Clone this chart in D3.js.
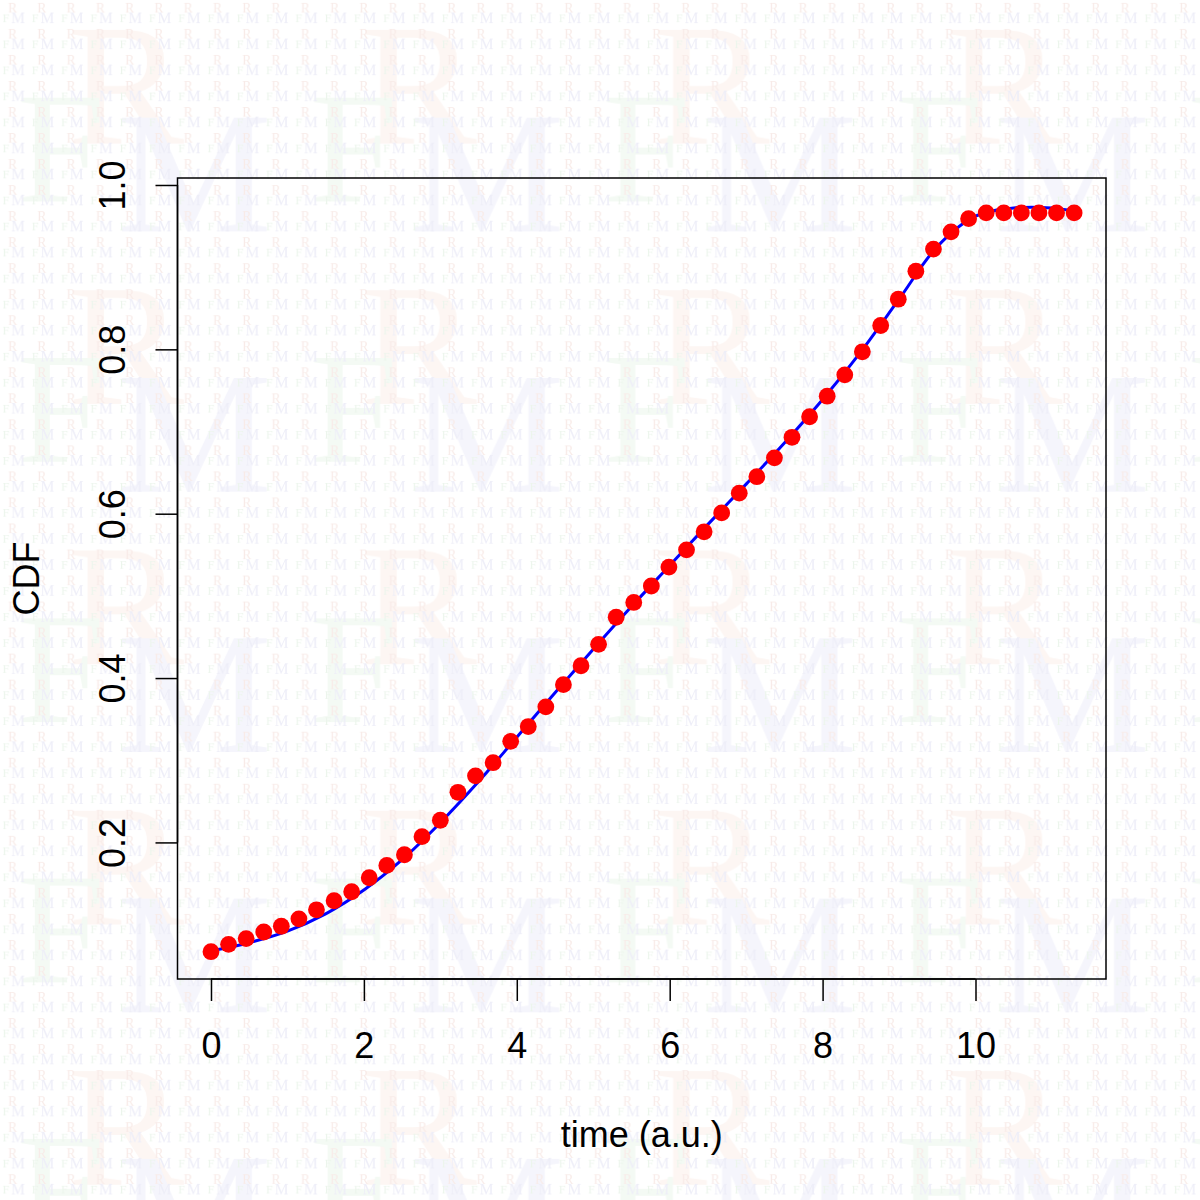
<!DOCTYPE html>
<html>
<head>
<meta charset="utf-8">
<script src="https://cdn.jsdelivr.net/npm/d3@7"></script>
<style>
  html, body { margin: 0; padding: 0; background: #ffffff; }
  svg { display: block; }
  .sans { font-family: "Liberation Sans", Arial, sans-serif; }
  .serif { font-family: "Liberation Serif", "Times New Roman", serif; }
</style>
</head>
<body>
<svg id="chart" width="1200" height="1200"></svg>
<script>
// ---- data ----
const times = [0, 0.23, 0.46, 0.69, 0.92, 1.15, 1.38, 1.61, 1.84, 2.07,
  2.30, 2.53, 2.76, 3.00, 3.23, 3.46, 3.69, 3.92, 4.15, 4.38,
  4.61, 4.84, 5.07, 5.30, 5.53, 5.76, 5.99, 6.22, 6.45, 6.68,
  6.91, 7.14, 7.37, 7.60, 7.83, 8.06, 8.29, 8.52, 8.76, 8.99,
  9.22, 9.45, 9.68, 9.91, 10.14, 10.37, 10.60, 10.83, 11.06, 11.29];
const cdfObserved = [0.067, 0.076, 0.083, 0.091, 0.098, 0.107, 0.118, 0.129, 0.140, 0.157,
  0.172, 0.185, 0.207, 0.227, 0.261, 0.281, 0.297, 0.323, 0.341, 0.365,
  0.392, 0.415, 0.441, 0.474, 0.492, 0.512, 0.535, 0.556, 0.578, 0.601,
  0.625, 0.645, 0.668, 0.693, 0.718, 0.743, 0.769, 0.797, 0.829, 0.861,
  0.895, 0.922, 0.943, 0.959, 0.966, 0.966, 0.966, 0.966, 0.966, 0.966];
const curveTimes = [0, 0.5, 1.0, 1.5, 2.0, 2.5, 3.0, 3.5, 4.0, 4.5, 5.0, 5.5,
  6.0, 6.5, 7.0, 7.5, 8.0, 8.5, 9.0, 9.5, 10.0, 10.5, 11.0, 11.29];
const cdfFitted = [0.068, 0.078, 0.092, 0.113, 0.142, 0.179, 0.224, 0.274, 0.328, 0.382, 0.435, 0.487,
  0.537, 0.587, 0.636, 0.686, 0.739, 0.797, 0.861, 0.925, 0.962, 0.972, 0.972, 0.968];
const xTicks = [0, 2, 4, 6, 8, 10];
const yTicks = [0.2, 0.4, 0.6, 0.8, 1.0];
const xLabel = "time (a.u.)";
const yLabel = "CDF";

// ---- layout ----
const W = 1200, H = 1200;
const plot = { left: 177.5, right: 1106, top: 178, bottom: 979 };
const svg = d3.select("#chart");

// ---- watermark background ----
const defs = svg.append("defs");
const small = defs.append("pattern").attr("id", "wmSmall")
  .attr("patternUnits", "userSpaceOnUse").attr("width", 29.28).attr("height", 26.03);
small.append("text").attr("class", "serif").attr("x", 8).attr("y", 12.6)
  .attr("font-size", 13.5).attr("fill", "#f8ebe8").text("R");
small.append("text").attr("class", "serif").attr("x", 2.5).attr("y", 21.8)
  .attr("font-size", 12.5).attr("fill", "#ecf5ec").text("F");
small.append("text").attr("class", "serif").attr("x", 11.2).attr("y", 23.3)
  .attr("font-size", 15.5).attr("fill", "#eeeef8").text("M");

const big = defs.append("pattern").attr("id", "wmBig")
  .attr("patternUnits", "userSpaceOnUse").attr("width", 292.8).attr("height", 260.3);
big.append("text").attr("class", "serif").attr("x", 68).attr("y", 143.5)
  .attr("font-size", 174).attr("fill", "#fdf6f3").text("R");
big.append("text").attr("class", "serif").attr("x", 17).attr("y", 201)
  .attr("font-size", 158).attr("fill", "#f4faf4").text("F");
big.append("text").attr("class", "serif").attr("x", 117).attr("y", 231.5)
  .attr("font-size", 174).attr("fill", "#f5f5fc").text("M");

svg.append("rect").attr("width", W).attr("height", H).attr("fill", "#ffffff");
svg.append("rect").attr("width", W).attr("height", H).attr("fill", "url(#wmBig)");
svg.append("rect").attr("width", W).attr("height", H).attr("fill", "url(#wmSmall)");

// ---- scales ----
const x = d3.scaleLinear().domain([-0.438, 11.707]).range([plot.left, plot.right]);
const y = d3.scaleLinear().domain([0.0338, 1.0085]).range([plot.bottom, plot.top]);

// ---- fitted curve ----
const fitted = curveTimes.map((t, i) => [t, cdfFitted[i]]);
svg.append("path")
  .datum(fitted)
  .attr("fill", "none")
  .attr("stroke", "#0000ff")
  .attr("stroke-width", 3)
  .attr("d", d3.line().x(d => x(d[0])).y(d => y(d[1])).curve(d3.curveCatmullRom.alpha(0.5)));

// ---- observed points ----
svg.append("g").selectAll("circle")
  .data(times.map((t, i) => [t, cdfObserved[i]]))
  .join("circle")
  .attr("cx", d => x(d[0]))
  .attr("cy", d => y(d[1]))
  .attr("r", 8.4)
  .attr("fill", "#ff0000");

// ---- box ----
svg.append("rect")
  .attr("x", plot.left).attr("y", plot.top)
  .attr("width", plot.right - plot.left).attr("height", plot.bottom - plot.top)
  .attr("fill", "none").attr("stroke", "#000").attr("stroke-width", 1.5);

// ---- axes ----
const xAxis = d3.axisBottom(x).tickValues(xTicks).tickSize(22).tickPadding(34)
  .tickFormat(d3.format("d"));
const gx = svg.append("g").attr("transform", `translate(0,${plot.bottom})`).call(xAxis);
gx.attr("font-family", null).attr("font-size", null);
gx.select(".domain").attr("d", `M${x(xTicks[0])},0H${x(xTicks[xTicks.length - 1])}`)
  .attr("stroke", "#000").attr("stroke-width", 1.5);
gx.selectAll(".tick line").attr("stroke", "#000").attr("stroke-width", 1.5);
gx.selectAll(".tick text").attr("class", "sans").attr("font-size", 36).attr("fill", "#000")
  .attr("dy", null).attr("y", 79);

const yAxis = d3.axisLeft(y).tickValues(yTicks).tickSize(22).tickFormat(d3.format(".1f"));
const gy = svg.append("g").attr("transform", `translate(${plot.left},0)`).call(yAxis);
gy.attr("font-family", null).attr("font-size", null);
gy.select(".domain").attr("d", `M0,${y(yTicks[0])}V${y(yTicks[yTicks.length - 1])}`)
  .attr("stroke", "#000").attr("stroke-width", 1.5);
gy.selectAll(".tick line").attr("stroke", "#000").attr("stroke-width", 1.5);
gy.selectAll(".tick text")
  .attr("class", "sans").attr("font-size", 36).attr("fill", "#000")
  .attr("x", null).attr("dy", null)
  .attr("text-anchor", "middle")
  .attr("transform", "translate(-52.5,0) rotate(-90)");

// ---- axis titles ----
svg.append("text").attr("class", "sans")
  .attr("x", (plot.left + plot.right) / 2).attr("y", 1147)
  .attr("text-anchor", "middle").attr("font-size", 36).attr("fill", "#000")
  .text(xLabel);
svg.append("text").attr("class", "sans")
  .attr("transform", `translate(38.5,${(plot.top + plot.bottom) / 2}) rotate(-90)`)
  .attr("text-anchor", "middle").attr("font-size", 36).attr("fill", "#000")
  .text(yLabel);
</script>
</body>
</html>
